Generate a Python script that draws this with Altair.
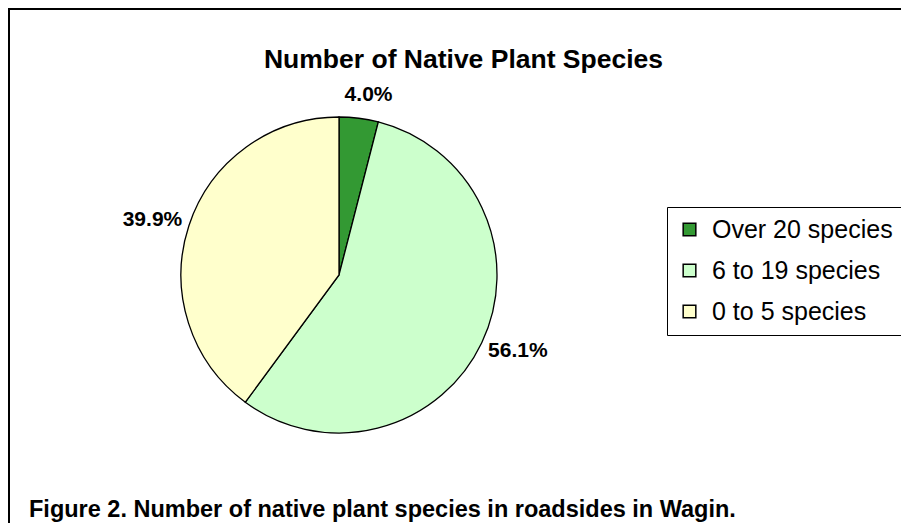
import altair as alt
import pandas as pd

FONT = "Liberation Sans"

categories = ["Over 20 species", "6 to 19 species", "0 to 5 species"]
shares = [4.0, 56.1, 39.9]
labels = ["4.0%", "56.1%", "39.9%"]
slice_order = [0, 1, 2]
colors = ["#339933", "#CCFFCC", "#FFFFCC"]

df = pd.DataFrame({"cat": categories, "share": shares, "label": labels, "ord": slice_order})

W, H = 893, 515
CX, CY, R = 331, 267, 158

base = alt.Chart(df).encode(
    theta=alt.Theta("share:Q", stack=True),
    order=alt.Order("ord:Q"),
)

pie = base.mark_arc(radius=R, stroke="black", strokeWidth=1.3).encode(
    x=alt.value(CX),
    y=alt.value(CY),
    color=alt.Color(
        "cat:N",
        scale=alt.Scale(domain=categories, range=colors),
        legend=alt.Legend(
            title=None,
            orient="none",
            legendX=659,
            legendY=199,
            labelFontSize=25,
            labelFont=FONT,
            labelColor="black",
            labelLimit=400,
            symbolType="square",
            symbolSize=160,
            symbolStrokeColor="black",
            symbolStrokeWidth=1.5,
            symbolOpacity=1,
            rowPadding=15,
            padding=10,
            labelOffset=10,
            strokeColor="black",
            fillColor="white",
        ),
    ),
)


def label_layer(cat, radius, align, baseline, dx, dy):
    return base.transform_calculate(
        t=f"datum.cat === '{cat}' ? datum.label : ''"
    ).mark_text(
        radius=radius, align=align, baseline=baseline, dx=dx, dy=dy,
        fontSize=21, fontWeight="bold", font=FONT, color="black",
    ).encode(x=alt.value(CX), y=alt.value(CY), text="t:N")


t1 = label_layer("Over 20 species", 172, "center", "bottom", 8, 1)
t2 = label_layer("6 to 19 species", 165, "left", "middle", 0, 5)
t3 = label_layer("0 to 5 species", 165, "right", "middle", 0, -4)

one = pd.DataFrame({"k": [0]})
frame_top = alt.Chart(one).mark_rule(color="black", strokeWidth=2).encode(
    x=alt.value(0), x2=alt.value(W), y=alt.value(1)
)
frame_left = alt.Chart(one).mark_rule(color="black", strokeWidth=2).encode(
    x=alt.value(1), y=alt.value(0), y2=alt.value(H)
)

caption = alt.Chart(pd.DataFrame({"c": ["Figure 2. Number of native plant species in roadsides in Wagin."]})).mark_text(
    align="left", baseline="alphabetic", fontSize=23.5, fontWeight="bold", font=FONT, color="black"
).encode(x=alt.value(21), y=alt.value(509), text="c:N")

chart = alt.layer(frame_top, frame_left, pie, t1, t2, t3, caption).properties(
    width=W,
    height=H,
    padding=0,
    autosize="none",
    background="white",
    title=alt.TitleParams(
        "Number of Native Plant Species",
        fontSize=26.5,
        fontWeight="bold",
        font=FONT,
        color="black",
        anchor="middle",
        dx=9,
        dy=70,
    ),
).configure_view(stroke="transparent", strokeWidth=0)

chart.save("out.html", embed_options={"renderer": "svg", "actions": False})
